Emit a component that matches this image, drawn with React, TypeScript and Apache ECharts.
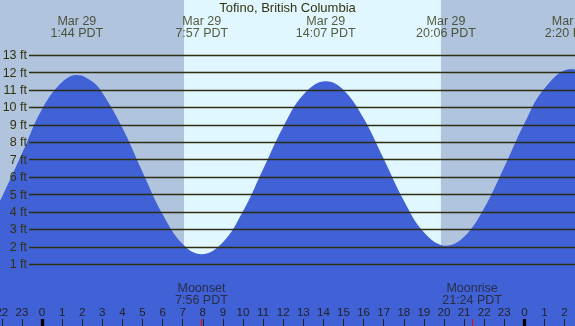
import React, { useEffect, useRef } from "react";
import * as echarts from "echarts";

const chartTitle = "Tofino, British Columbia";

// tide curve (hours from midnight Mar 29, feet)
const tideHours = [-3, -2, -1, 0, 1, 1.733, 2.5, 3, 4, 5, 6, 7, 7.95, 9, 10, 11, 12, 13, 14.117, 15, 16, 17, 18, 19, 20.1, 21, 22, 23, 24, 25, 26.333, 27];
const tideFeet = [2.6, 4.85, 7.35, 9.9, 11.45, 11.86, 11.48, 10.84, 8.83, 6.3, 3.87, 2.16, 1.57, 2.26, 4.04, 6.45, 8.88, 10.72, 11.5, 11.0, 9.38, 7.05, 4.66, 2.84, 2.07, 2.58, 4.22, 6.58, 9.08, 11.09, 12.2, 11.95];

// high / low tide labels
const extremeHours = [1.733, 7.95, 14.117, 20.1, 26.333];
const extremeLabels = ["Mar 29\n1:44 PDT", "Mar 29\n7:57 PDT", "Mar 29\n14:07 PDT", "Mar 29\n20:06 PDT", "Mar 30\n2:20 PDT"];

// moon events
const moonHours = [7.933, 21.4];
const moonLabels = ["Moonset\n7:56 PDT", "Moonrise\n21:24 PDT"];

// sun
const sunriseHour = 7.07;
const sunsetHour = 19.85;

// axes
const ftLevels = [1, 2, 3, 4, 5, 6, 7, 8, 9, 10, 11, 12, 13];
const hourTicks = [-2, -1, 0, 1, 2, 3, 4, 5, 6, 7, 8, 9, 10, 11, 12, 13, 14, 15, 16, 17, 18, 19, 20, 21, 22, 23, 24, 25, 26];
const midnightHours = [0, 24];

const X_MIN = -2.09;
const X_MAX = 26.52;
const Y_MIN = -2.54;
const Y_MAX = 16.16;
const LEVEL_LINE_START = -0.647;
const TOP_LABEL_Y = 14.62;
const MOON_LABEL_Y = -0.68;

const FONT = "Liberation Sans, Arial, sans-serif";
const TEXT = "#333310";

export default function App() {
  const ref = useRef<HTMLDivElement>(null);
  useEffect(() => {
    if (!ref.current) return;
    const chart = echarts.init(ref.current, null, { renderer: "svg" });
    const baseX = {
      type: "value" as const,
      min: X_MIN,
      max: X_MAX,
      position: "bottom" as const,
      offset: 0,
      z: 20,
      axisLine: { show: false, onZero: false },
      splitLine: { show: false },
    };
    chart.setOption({
      animation: false,
      title: {
        text: chartTitle,
        left: "center",
        top: 1,
        padding: 0,
        textStyle: { fontFamily: FONT, fontSize: 13, fontWeight: "normal", color: TEXT },
      },
      grid: { left: 0, right: 0, top: 0, bottom: 0, containLabel: false, outerBoundsMode: "none" },
      xAxis: [
        {
          ...baseX,
          axisTick: { show: true, inside: true, length: 7, customValues: hourTicks, lineStyle: { color: "#222", width: 1 } },
          axisLabel: {
            show: true,
            inside: true,
            margin: 8,
            customValues: hourTicks,
            alignMinLabel: "center",
            alignMaxLabel: "center",
            hideOverlap: false,
            formatter: (v: number) => String(((Math.round(v) % 24) + 24) % 24),
            fontFamily: FONT,
            fontSize: 11.5,
            color: "#222",
          },
        },
        {
          ...baseX,
          axisTick: { show: true, inside: true, length: 7, customValues: midnightHours, lineStyle: { color: "#000", width: 3.3 } },
          axisLabel: { show: false },
        },
        {
          ...baseX,
          axisTick: { show: true, inside: true, length: 7, customValues: moonHours, lineStyle: { color: "#ff0000", width: 1 } },
          axisLabel: { show: false },
        },
      ],
      yAxis: { type: "value", min: Y_MIN, max: Y_MAX, show: false },
      series: [
        {
          type: "line",
          z: 1,
          data: [[X_MIN, Y_MIN]],
          showSymbol: false,
          lineStyle: { width: 0 },
          silent: true,
          markArea: {
            silent: true,
            data: [
              [{ xAxis: X_MIN, itemStyle: { color: "#b0c4de" } }, { xAxis: sunriseHour }],
              [{ xAxis: sunriseHour, itemStyle: { color: "#e0f7ff" } }, { xAxis: sunsetHour }],
              [{ xAxis: sunsetHour, itemStyle: { color: "#b0c4de" } }, { xAxis: X_MAX }],
            ],
          },
        },
        {
          type: "line",
          z: 2,
          data: tideHours.map((h, i) => [h, tideFeet[i]]),
          smooth: 0.4,
          showSymbol: false,
          symbol: "none",
          lineStyle: { width: 0 },
          areaStyle: { color: "#4161d6", opacity: 1, origin: "start" },
          silent: true,
        },
        {
          type: "line",
          z: 3,
          data: [[X_MIN, Y_MIN]],
          showSymbol: false,
          lineStyle: { width: 0 },
          silent: true,
          markLine: {
            silent: true,
            symbol: ["none", "none"],
            lineStyle: { color: "#2e2e10", width: 1.3, type: "solid" },
            label: {
              show: true,
              position: "start",
              distance: 2,
              formatter: (p: any) => `${p.data.level} ft`,
              fontFamily: FONT,
              fontSize: 12.5,
              color: TEXT,
            },
            data: ftLevels.map((v) => [
              { coord: [LEVEL_LINE_START, v], level: v },
              { coord: [X_MAX, v] },
            ]),
          },
        },
        {
          type: "scatter",
          z: 4,
          symbolSize: 0,
          silent: true,
          data: extremeHours.map((h) => [h, TOP_LABEL_Y]),
          label: {
            show: true,
            position: "inside",
            formatter: (p: any) => extremeLabels[p.dataIndex],
            fontFamily: FONT,
            fontSize: 12.5,
            lineHeight: 12,
            color: TEXT,
          },
        },
        {
          type: "scatter",
          z: 4,
          symbolSize: 0,
          silent: true,
          data: moonHours.map((h) => [h, MOON_LABEL_Y]),
          label: {
            show: true,
            position: "inside",
            formatter: (p: any) => moonLabels[p.dataIndex],
            fontFamily: FONT,
            fontSize: 12.5,
            lineHeight: 12,
            color: "#222",
          },
        },
      ],
    });
    return () => chart.dispose();
  }, []);
  return <div ref={ref} style={{ position: "fixed", left: 0, top: 0, width: 575, height: 326 }} />;
}
